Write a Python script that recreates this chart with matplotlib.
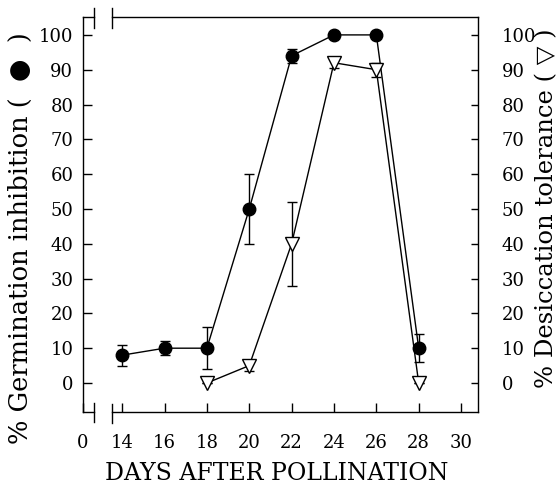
import matplotlib
matplotlib.use('Agg')
import matplotlib.pyplot as plt
from matplotlib.lines import Line2D

plt.rcParams['font.family'] = ['DejaVu Serif', 'DejaVu Sans']

# germination inhibition (filled circles)
germ_days = [14, 16, 18, 20, 22, 24, 26, 28]
germ_vals = [8, 10, 10, 50, 94, 100, 100, 10]
germ_err = [3, 2, 6, 10, 2, 0, 0, 4]

# desiccation tolerance (open triangles)
desic_days = [18, 20, 22, 24, 26, 28]
desic_vals = [0, 5, 40, 92, 90, 0]
desic_err = [0, 1.5, 12, 1.5, 2, 0]

x_ticks = [14, 16, 18, 20, 22, 24, 26, 28, 30]
y_ticks = [0, 10, 20, 30, 40, 50, 60, 70, 80, 90, 100]

W, H = 559, 490
fig = plt.figure(figsize=(W / 100, H / 100), dpi=100)

# axes box in pixels
x0, x1, y_top, y_bot = 83, 478, 17.5, 412
ax = fig.add_axes([x0 / W, 1 - y_bot / H, (x1 - x0) / W, (y_bot - y_top) / H])

x_left = 12.15
ax.set_xlim(x_left, 30.8)
ax.set_ylim(-8.33, 105.0)

ax.errorbar(germ_days, germ_vals, yerr=germ_err, color='black', lw=1.0,
            marker='o', ms=9, mfc='black', mec='black', capsize=3.5,
            elinewidth=1.0, capthick=1.0, zorder=3)
ax.errorbar(desic_days, desic_vals, yerr=desic_err, color='black', lw=1.0,
            marker='v', ms=10, mfc='white', mec='black', mew=1.0,
            capsize=3.5, elinewidth=1.0, capthick=1.0, zorder=4)

for s in ['left', 'top', 'bottom']:
    ax.spines[s].set_visible(False)
ax.spines['right'].set_linewidth(1.0)

ax.set_xticks([x_left] + x_ticks)
ax.set_xticklabels(['0'] + [str(v) for v in x_ticks])
ax.set_yticks(y_ticks)
ax.set_yticklabels([str(v) for v in y_ticks])
ax.tick_params(axis='x', direction='in', length=6.5, width=1.0, pad=16,
               labelsize=13)
ax.tick_params(axis='y', direction='in', length=6.5, width=1.0, pad=7,
               labelsize=13)

ax2 = ax.twinx()
ax2.set_ylim(ax.get_ylim())
ax2.set_yticks(y_ticks)
ax2.set_yticklabels([str(v) for v in y_ticks])
ax2.tick_params(axis='y', direction='in', length=5, width=1.0, pad=17,
                labelsize=13)
for s in ['left', 'top', 'bottom', 'right']:
    ax2.spines[s].set_visible(False)


def seg(xa, ya, xb, yb):
    fig.add_artist(Line2D([xa / W, xb / W], [1 - ya / H, 1 - yb / H],
                          transform=fig.transFigure, color='black', lw=1.0))


# broken frame
seg(x0, y_top, x0, y_bot)
seg(x0, y_top, 94, y_top)
seg(94, 8, 94, 28)
seg(112, 8, 112, 28)
seg(112, y_top, x1, y_top)
seg(x0, y_bot, 94, y_bot)
seg(94, 403, 94, 422)
seg(112, 404, 112, 423)
seg(112, y_bot, x1, y_bot)

fig.text(277 / W, 1 - 473 / H, 'DAYS AFTER POLLINATION', ha='center',
         va='center', fontsize=17)
fig.text(20 / W, 1 - 238 / H, '% Germination inhibition (  \u25cf  )',
         rotation=90, ha='center', va='center', fontsize=18.5)
fig.text(547 / W, 1 - 208 / H, '% Desiccation tolerance ( \u25bd )',
         rotation=90, ha='center', va='center', fontsize=17.5)

fig.savefig('out.png', dpi=100)
